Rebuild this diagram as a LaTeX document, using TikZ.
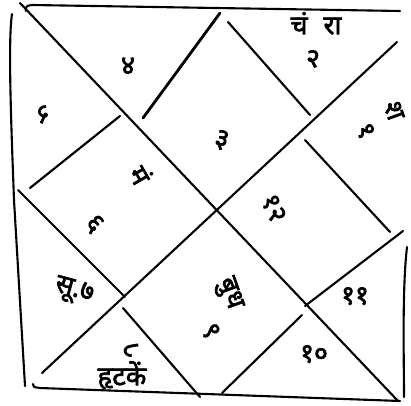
\documentclass[tikz,border=0pt]{standalone}
\usepackage{fontspec}
\newfontfamily\deva[Script=Devanagari, FakeBold=2.5]{Noto Sans}
\begin{document}
\begin{tikzpicture}[x=0.025cm, y=-0.025cm,
  every node/.style={font=\deva\fontsize{19}{22}\selectfont, inner sep=0pt,
                     text height=1.6ex, text depth=0.2ex},
  rekha/.style={line width=1.5pt, line cap=round, line join=round},
  ank/.style={rotate=#1},
]
\useasboundingbox (0,0) rectangle (411,405);
% corners of the chart
\coordinate (kTL) at (20,3);
\coordinate (kBR) at (398,401);
\coordinate (kTR) at (397,42);
\coordinate (kBL) at (42,373);

% outer frame (hand drawn, open at top right)
\draw[rekha] (26,11) .. controls (26,6) .. (32,5) -- (400,11);
\draw[rekha] (12,14) .. controls (8,40) and (11,120) .. (14,200) -- (25,386);
\draw[rekha] (33,384) .. controls (33,387) .. (40,388) -- (400,401);
\draw[rekha] (407,247) .. controls (402,290) and (404,360) .. (404,397);

% diagonals
\draw[rekha] (kTL) -- (kBR);
\draw[rekha] (kTR) -- (kBL);

% inner diamond, broken where it meets the diagonals
\draw[rekha, line width=2pt] (220,13) -- (143,118);
\draw[rekha] (120,116) -- (30,188);
\draw[rekha] (18,190) -- (125,297);
\draw[rekha] (123,308) -- (200,397);
\draw[rekha] (222,393) -- (302,315);
\draw[rekha] (305,306) -- (403,231);
\draw[rekha] (390,232) -- (305,140);
\draw[rekha] (310,115) -- (228,22);

% houses, counted from the top diamond
\node (b3) [ank=-15] at (221,143) {३};
\node (b4) at (128,70) {४};
\node (b5) [ank=-35] at (40,117) {५};
\node (mangal) [ank=-60] at (135,178) {मं};
\node (b6) [ank=-50] at (92,226) {६};
\node (surya) [ank=-15] at (74,292) {सू.७};
\node (b8) [ank=-40] at (128,352) {८};
\node (harshal) at (122,381) {हृटकें};
\node (budh) [ank=-70] at (228,294) {बुध};
\node (b9) [ank=-70] at (207,332) {९};
\node (b10) at (314,358) {१०};
\node (b11) at (355,300) {११};
\node (b12) [ank=-65] at (270,210) {१२};
\node (b1) [ank=-60] at (362,133) {१};
\node (shani) [ank=-70] at (390,112) {श};
\node (chandra) at (316,30) {चं\hspace{0.6em}रा};
\node (b2) at (313,63) {२};
\end{tikzpicture}
\end{document}
